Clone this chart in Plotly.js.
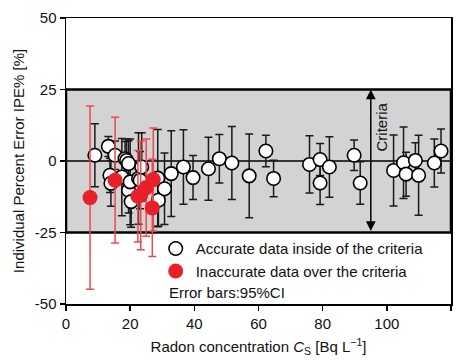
<!DOCTYPE html>
<html><head><meta charset="utf-8">
<script src="https://cdn.plot.ly/plotly-3.0.1.min.js"></script>
<style>html,body{margin:0;padding:0;background:#fff}#chart{width:462px;height:360px}</style>
</head><body><div id="chart"></div>
<script>
const whiteX = [9.0,13.2,13.7,14.0,15.3,17.4,18.4,18.9,19.5,19.5,20.0,20.3,22.6,23.1,23.6,28.6,28.8,30.7,32.8,36.6,39.6,44.4,47.8,51.7,57.1,62.3,64.7,75.9,79.2,79.2,82.1,89.8,91.7,102.1,105.2,106.0,108.9,109.9,114.8,116.9];
const whiteY = [2.0,5.1,-5.0,-7.8,2.0,-5.6,0.8,0.2,-0.9,-10.2,-7.3,-14.2,-6.1,-6.7,-2.1,-6.0,-13.7,-9.7,-4.4,-2.1,-5.8,-2.7,0.8,-0.7,-5.2,3.5,-6.1,-1.2,0.5,-7.7,-2.1,2.0,-7.7,-3.3,-0.6,-4.6,0.2,-5.0,-0.7,3.5];
const whiteErr = [11,3.5,6,8,5,13.5,6,7.5,8,8,15,9,16,10,12,17,9,12.5,15,13,7.7,11,8.5,12.8,14.6,5.5,6.4,10,5.6,7.5,10.6,5.3,7.4,12.4,12.5,7.7,6.2,14,8.4,7.7];
const redX = [7.5,15.3,22.4,23.3,25.0,27.2,26.9];
const redY = [-12.8,-6.7,-12.3,-12.0,-9.3,-6.5,-16.4];
const redErr = [32,22,16,19,17,18,17];
const yTickVals = [-50,-25,0,25,50];
const yTickText = ['-50','-25','0','25','50'];
const xTickVals = [0,20,40,60,80,100,120];
const criteriaLimits = [-25,25];
const criteriaX = 95;

const font = {family:'Liberation Sans, Arial, sans-serif', size:15, color:'#111111'};

const traces = [
  {x:whiteX, y:whiteY, type:'scatter', mode:'markers', name:'Accurate data inside of the criteria',
   marker:{size:13.5, color:'#ffffff', line:{color:'#000000', width:1.6}},
   error_y:{type:'data', array:whiteErr, visible:true, color:'#1a1a1a', thickness:1.5, width:4}},
  {x:redX, y:redY, type:'scatter', mode:'markers', name:'Inaccurate data over the criteria',
   marker:{size:15, color:'#e8202a', line:{width:0}},
   error_y:{type:'data', array:redErr, visible:true, color:'#ea4a50', thickness:1.5, width:4}}
];

const layout = {
  width:462, height:360,
  margin:{l:66, r:11, t:18, b:56},
  paper_bgcolor:'#ffffff', plot_bgcolor:'#ffffff',
  font:font,
  showlegend:true,
  legend:{x:0.233, y:0.251, xanchor:'left', yanchor:'top', bgcolor:'rgba(0,0,0,0)',
          font:font, tracegroupgap:0, itemwidth:30},
  xaxis:{range:[0,120], tickvals:xTickVals, showgrid:false, zeroline:false,
         showline:true, linecolor:'#000', linewidth:1.5, mirror:true,
         ticks:'outside', ticklen:5, tickwidth:1.5, tickcolor:'#000',
         tickfont:font,
         title:{text:'Radon concentration <i>C</i><sub>S</sub> [Bq L<sup>−1</sup>]', font:font, standoff:11}},
  yaxis:{range:[-50,50], tickvals:yTickVals, ticktext:yTickText, showgrid:false, zeroline:false,
         showline:true, linecolor:'#000', linewidth:1.5, mirror:true,
         ticks:'outside', ticklen:5, tickwidth:1.5, tickcolor:'#000',
         tickfont:font,
         title:{text:'Individual Percent Error IPE% [%]', font:font, standoff:6}},
  shapes:[
    {type:'rect', xref:'x', yref:'y', x0:0, x1:120, y0:criteriaLimits[0], y1:criteriaLimits[1],
     fillcolor:'#d3d3d4', line:{color:'#000', width:2.5}, layer:'below'},
    {type:'line', xref:'x', yref:'y', x0:0, x1:120, y0:0, y1:0,
     line:{color:'#000', width:1.5}, layer:'below'}
  ],
  annotations:[
    {x:criteriaX, y:criteriaLimits[1], ax:criteriaX, ay:criteriaLimits[0], xref:'x', yref:'y', axref:'x', ayref:'y',
     text:'', showarrow:true, arrowhead:2, startarrowhead:2, arrowside:'end+start', arrowsize:1.3, arrowwidth:1.5, arrowcolor:'#000'},
    {x:criteriaX, y:12, xref:'x', yref:'y', text:'Criteria', textangle:-90, showarrow:false,
     xanchor:'center', yanchor:'middle', xshift:11, font:font},
    {x:0.262, y:0.005, xref:'paper', yref:'paper', text:'Error bars:95%CI', showarrow:false,
     xanchor:'left', yanchor:'bottom', font:font}
  ]
};

Plotly.newPlot('chart', traces, layout, {displayModeBar:false, staticPlot:true});
</script>
</body></html>
